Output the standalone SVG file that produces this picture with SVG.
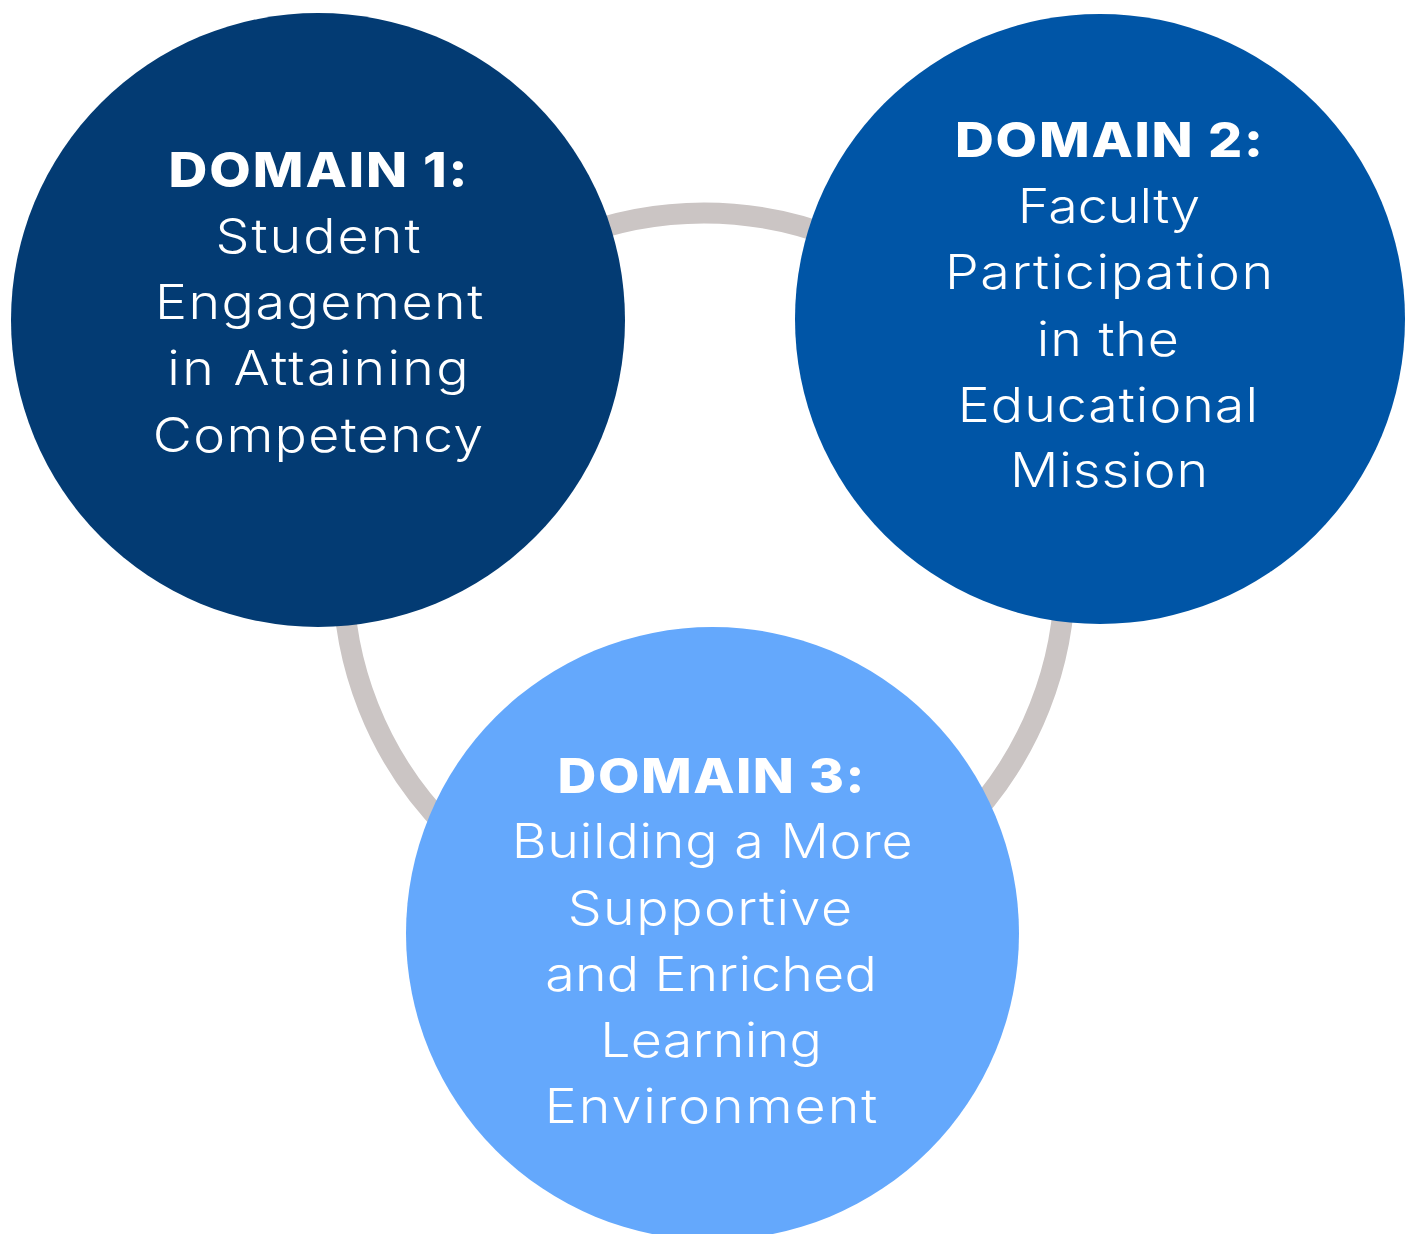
<svg xmlns="http://www.w3.org/2000/svg" width="1415" height="1234" viewBox="0 0 1415 1234">
  <style>
    .ring { fill: none; stroke: #CBC5C4; stroke-width: 21; }
    text { fill: #FFFFFF; text-anchor: middle; font-variant-ligatures: none; }
    .title { font-family: Inter, "Open Sans", sans-serif; font-weight: 800; font-size: 48px; }
    .body { font-family: Inter, "Open Sans", sans-serif; font-weight: 300; font-size: 48px; }
  </style>
  <rect width="1415" height="1234" fill="#FFFFFF"/>

  <!-- linking ring behind the domains -->
  <g id="connectors">
    <circle class="ring" cx="704" cy="574" r="361"/>
  </g>

  <!-- labels use a slightly widened face: scale(1.12,1) about each column centre -->
  <g id="domain1">
    <circle cx="318" cy="320" r="307" fill="#033B73"/>
    <g transform="translate(318 0) scale(1.12 1)">
      <text class="title" x="0" y="187" textLength="267" lengthAdjust="spacing">DOMAIN 1:</text>
      <text class="body" x="0" y="253" textLength="183" lengthAdjust="spacing">Student</text>
      <text class="body" x="1" y="319" textLength="293" lengthAdjust="spacing">Engagement</text>
      <text class="body" x="0" y="385" textLength="269" lengthAdjust="spacing">in Attaining</text>
      <text class="body" x="0" y="452" textLength="295" lengthAdjust="spacing">Competency</text>
    </g>
  </g>

  <g id="domain2">
    <circle cx="1100" cy="319" r="305" fill="#0055A6"/>
    <g transform="translate(1109 0) scale(1.12 1)">
      <text class="title" x="0" y="157" textLength="275" lengthAdjust="spacing">DOMAIN 2:</text>
      <text class="body" x="0" y="223" textLength="163" lengthAdjust="spacing">Faculty</text>
      <text class="body" x="0" y="289" textLength="293" lengthAdjust="spacing">Participation</text>
      <text class="body" x="-1" y="356" textLength="127" lengthAdjust="spacing">in the</text>
      <text class="body" x="-1" y="422" textLength="268" lengthAdjust="spacing">Educational</text>
      <text class="body" x="0" y="487" textLength="177" lengthAdjust="spacing">Mission</text>
    </g>
  </g>

  <g id="domain3">
    <circle cx="712.5" cy="933.5" r="306.5" fill="#64A8FC"/>
    <g transform="translate(711 0) scale(1.12 1)">
      <text class="title" x="0" y="793" textLength="274" lengthAdjust="spacing">DOMAIN 3:</text>
      <text class="body" x="1" y="858" textLength="358" lengthAdjust="spacing">Building a More</text>
      <text class="body" x="-1" y="925" textLength="254" lengthAdjust="spacing">Supportive</text>
      <text class="body" x="0" y="991" textLength="296" lengthAdjust="spacing">and Enriched</text>
      <text class="body" x="0" y="1057" textLength="198" lengthAdjust="spacing">Learning</text>
      <text class="body" x="0" y="1123" textLength="297" lengthAdjust="spacing">Environment</text>
    </g>
  </g>
</svg>
